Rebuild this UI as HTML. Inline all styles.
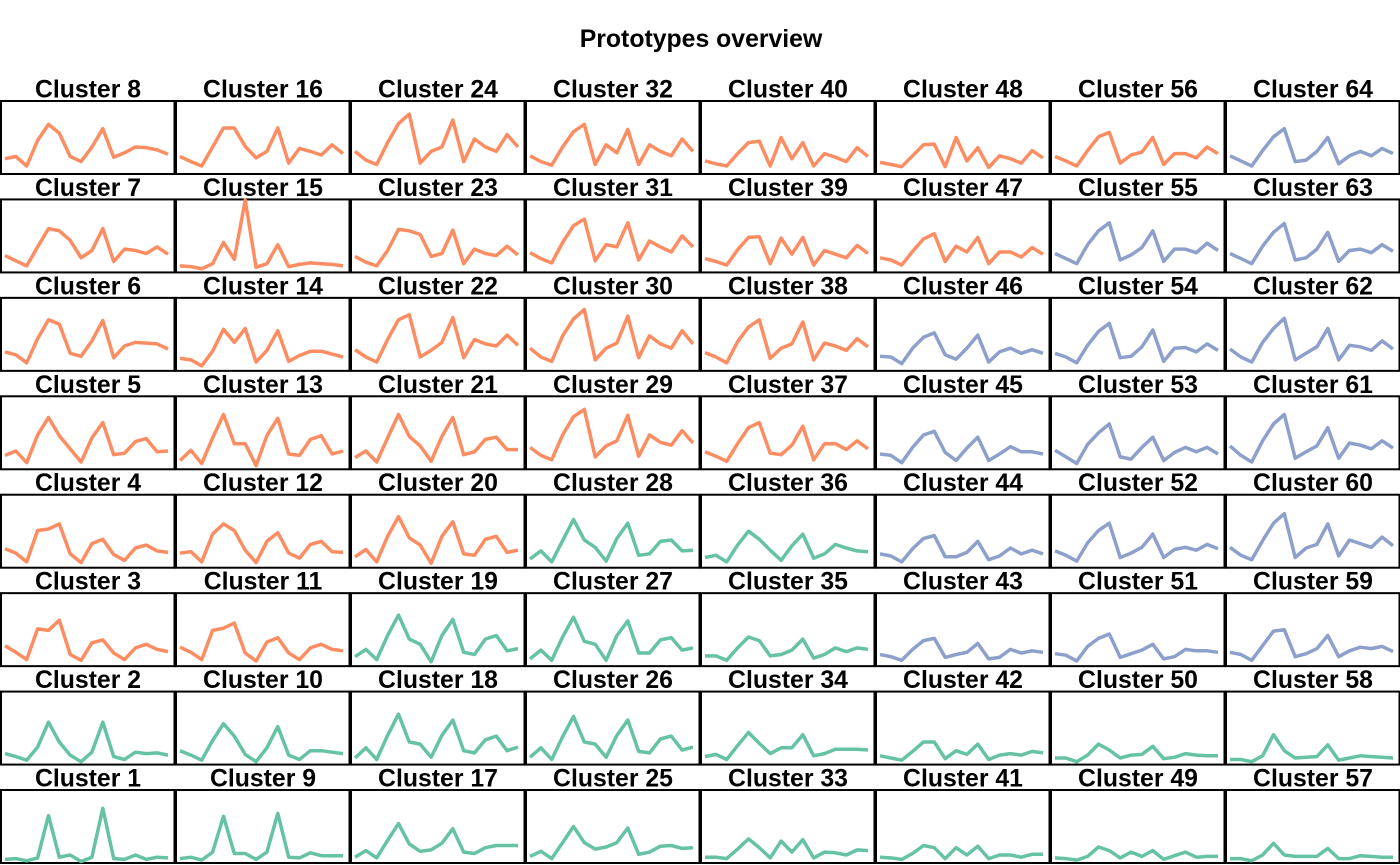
<!DOCTYPE html>
<html><head><meta charset="utf-8"><style>
html,body{margin:0;padding:0;background:#fff;}
svg{display:block;font-family:"Liberation Sans",Arial,sans-serif;}
</style></head><body>
<svg id="chart" width="1400" height="865" viewBox="0 0 1400 865" xmlns="http://www.w3.org/2000/svg">
<text x="701" y="47" text-anchor="middle" font-size="24.8" font-weight="bold">Prototypes overview</text>
</svg>
<script>
const c1=[.05,.06,.03,.07,.65,.08,.11,.02,.08,.75,.06,.05,.11,.05,.08,.07];
const c2=[.15,.11,.06,.24,.58,.31,.13,.04,.17,.58,.11,.07,.17,.15,.16,.13];
const c3=[.28,.19,.09,.51,.49,.63,.16,.08,.32,.36,.18,.09,.25,.30,.23,.20];
const c4=[.26,.20,.08,.51,.53,.60,.19,.07,.33,.39,.18,.10,.27,.31,.23,.21];
const c5=[.19,.25,.09,.47,.71,.46,.28,.10,.43,.64,.20,.22,.38,.42,.24,.25];
const c6=[.26,.22,.11,.44,.70,.64,.24,.20,.41,.69,.18,.34,.39,.38,.37,.30];
const c7=[.23,.16,.09,.35,.60,.57,.44,.20,.30,.60,.15,.32,.30,.26,.35,.25];
const c8=[.21,.24,.11,.46,.68,.56,.24,.17,.37,.62,.23,.29,.37,.36,.33,.27];
const c9=[.06,.08,.04,.15,.64,.13,.13,.05,.15,.68,.08,.07,.14,.10,.10,.10];
const c10=[.19,.13,.06,.33,.56,.39,.14,.04,.23,.52,.13,.07,.19,.19,.17,.15];
const c11=[.26,.19,.09,.49,.52,.59,.18,.07,.33,.39,.18,.09,.25,.30,.23,.21];
const c12=[.20,.22,.08,.46,.60,.51,.24,.07,.36,.48,.20,.13,.32,.36,.22,.21];
const c13=[.12,.26,.08,.43,.75,.35,.35,.05,.46,.70,.21,.19,.41,.46,.21,.25];
const c14=[.17,.15,.07,.27,.57,.39,.58,.12,.28,.55,.13,.21,.27,.27,.23,.19];
const c15=[.09,.08,.05,.12,.41,.18,.99,.07,.12,.38,.08,.11,.13,.12,.11,.09];
const c16=[.24,.17,.11,.37,.63,.63,.38,.22,.31,.63,.15,.35,.31,.26,.40,.28];
const c17=[.08,.17,.07,.31,.54,.26,.16,.18,.27,.47,.15,.13,.21,.24,.24,.24];
const c18=[.09,.23,.07,.40,.69,.31,.28,.10,.40,.61,.19,.16,.34,.39,.19,.24];
const c19=[.13,.23,.09,.42,.70,.37,.30,.06,.42,.64,.19,.16,.37,.42,.21,.24];
const c20=[.15,.25,.08,.43,.70,.41,.31,.06,.43,.63,.19,.17,.39,.43,.21,.24];
const c21=[.16,.25,.10,.43,.75,.45,.32,.11,.45,.71,.20,.24,.41,.44,.27,.27];
const c22=[.29,.19,.12,.43,.70,.77,.19,.28,.39,.73,.18,.43,.37,.34,.49,.35];
const c23=[.22,.14,.09,.30,.59,.57,.52,.22,.26,.58,.12,.32,.26,.23,.36,.24];
const c24=[.31,.19,.13,.43,.69,.82,.15,.31,.37,.74,.17,.48,.37,.31,.54,.37];
const c25=[.09,.16,.06,.28,.50,.28,.19,.22,.28,.48,.12,.15,.23,.24,.20,.21];
const c26=[.10,.23,.07,.38,.66,.31,.28,.10,.40,.61,.18,.16,.35,.39,.20,.24];
const c27=[.10,.22,.08,.40,.67,.34,.30,.08,.42,.62,.18,.18,.36,.39,.22,.25];
const c28=[.12,.23,.08,.37,.66,.38,.28,.09,.40,.61,.17,.19,.36,.38,.23,.24];
const c29=[.30,.19,.13,.47,.72,.82,.17,.32,.39,.74,.18,.47,.37,.33,.53,.36];
const c30=[.31,.19,.13,.48,.71,.84,.15,.31,.38,.75,.18,.48,.37,.31,.55,.37];
const c31=[.27,.19,.13,.41,.64,.73,.16,.38,.35,.68,.17,.43,.35,.28,.50,.35];
const c32=[.25,.17,.12,.37,.58,.68,.13,.40,.29,.61,.13,.40,.31,.25,.48,.31];
const c33=[.08,.08,.06,.19,.33,.21,.07,.30,.15,.32,.07,.15,.14,.11,.18,.17];
const c34=[.11,.14,.07,.26,.44,.29,.15,.23,.23,.41,.12,.15,.21,.21,.21,.20];
const c35=[.14,.14,.08,.25,.40,.35,.14,.16,.22,.37,.11,.16,.25,.20,.25,.23];
const c36=[.14,.17,.08,.31,.50,.39,.24,.10,.30,.46,.13,.19,.32,.27,.23,.22];
const c37=[.24,.18,.11,.35,.57,.64,.22,.20,.33,.59,.13,.35,.35,.27,.39,.28];
const c38=[.25,.19,.11,.40,.60,.70,.17,.31,.37,.67,.15,.38,.34,.28,.44,.33];
const c39=[.19,.15,.10,.31,.48,.49,.12,.47,.25,.48,.10,.30,.25,.20,.37,.26];
const c40=[.18,.14,.11,.28,.43,.45,.11,.50,.21,.43,.11,.28,.23,.17,.36,.24];
const c41=[.08,.07,.05,.13,.24,.21,.06,.21,.11,.23,.06,.11,.11,.08,.12,.12];
const c42=[.12,.09,.06,.18,.31,.31,.08,.19,.14,.28,.07,.13,.15,.13,.18,.16];
const c43=[.16,.13,.08,.23,.35,.38,.12,.16,.19,.31,.10,.12,.23,.18,.21,.19];
const c44=[.19,.16,.08,.26,.40,.44,.15,.15,.21,.36,.11,.16,.27,.19,.24,.19];
const c45=[.21,.19,.09,.30,.47,.52,.23,.12,.29,.44,.12,.21,.31,.24,.24,.21];
const c46=[.20,.19,.10,.31,.46,.52,.22,.16,.31,.49,.12,.26,.31,.24,.29,.24];
const c47=[.20,.17,.10,.29,.46,.53,.15,.36,.28,.48,.12,.28,.28,.21,.34,.25];
const c48=[.16,.13,.10,.25,.40,.41,.10,.50,.18,.36,.09,.25,.21,.15,.32,.22];
const c49=[.07,.06,.04,.09,.22,.17,.07,.15,.09,.17,.05,.10,.15,.08,.09,.09];
const c50=[.09,.09,.04,.13,.28,.20,.09,.13,.14,.25,.08,.10,.15,.13,.12,.12];
const c51=[.17,.15,.07,.27,.38,.44,.12,.17,.22,.30,.10,.13,.23,.21,.21,.19];
const c52=[.23,.17,.09,.34,.51,.61,.14,.20,.28,.46,.14,.25,.28,.24,.32,.26];
const c53=[.26,.17,.08,.34,.50,.62,.17,.14,.30,.44,.12,.23,.30,.24,.30,.21];
const c54=[.24,.19,.11,.35,.54,.65,.18,.20,.33,.56,.13,.31,.32,.26,.37,.28];
const c55=[.26,.19,.12,.38,.57,.68,.17,.24,.34,.57,.15,.32,.32,.27,.40,.30];
const c56=[.24,.18,.11,.32,.51,.57,.15,.26,.30,.50,.13,.28,.28,.22,.37,.28];
const c57=[.06,.06,.03,.11,.27,.11,.09,.09,.09,.20,.06,.06,.10,.09,.08,.08];
const c58=[.07,.07,.04,.12,.41,.19,.09,.10,.11,.27,.06,.09,.12,.11,.10,.09];
const c59=[.19,.16,.08,.28,.48,.50,.13,.17,.24,.42,.13,.21,.26,.24,.27,.20];
const c60=[.28,.17,.11,.37,.61,.74,.14,.27,.32,.60,.16,.38,.33,.28,.42,.30];
const c61=[.32,.19,.10,.39,.62,.75,.15,.24,.32,.57,.15,.36,.33,.28,.39,.29];
const c62=[.30,.19,.12,.39,.58,.72,.15,.24,.33,.58,.15,.35,.33,.28,.41,.30];
const c63=[.26,.19,.12,.36,.55,.67,.17,.20,.32,.55,.15,.30,.32,.27,.38,.29];
const c64=[.25,.18,.11,.32,.51,.62,.17,.19,.31,.50,.14,.25,.31,.25,.35,.28];
const clusterSeries=[c1,c2,c3,c4,c5,c6,c7,c8,c9,c10,c11,c12,c13,c14,c15,c16,c17,c18,c19,c20,c21,c22,c23,c24,c25,c26,c27,c28,c29,c30,c31,c32,c33,c34,c35,c36,c37,c38,c39,c40,c41,c42,c43,c44,c45,c46,c47,c48,c49,c50,c51,c52,c53,c54,c55,c56,c57,c58,c59,c60,c61,c62,c63,c64];
const orangeClusters=[3,4,5,6,7,8,11,12,13,14,15,16,20,21,22,23,24,29,30,31,32,37,38,39,40,47,48,56];
const blueClusters=[43,44,45,46,51,52,53,54,55,59,60,61,62,63,64];
const yMin=0, yMax=1;

const NS='http://www.w3.org/2000/svg';
const svg=document.getElementById('chart');
const colW=175, rowStep=98.43, boxTop0=101, boxH=73, xPad0=5, xPad1=168;
function colorOf(k){
  if(orangeClusters.indexOf(k)>=0) return '#fc8d62';
  if(blueClusters.indexOf(k)>=0) return '#8da0cb';
  return '#66c2a5';
}
for(let i=0;i<clusterSeries.length;i++){
  const k=i+1;
  const col=Math.floor(i/8), row=7-(i%8);
  const left=col*colW, top=boxTop0+row*rowStep;
  const g=document.createElementNS(NS,'g');
  
  
  const t=document.createElementNS(NS,'text');
  
  
  t.setAttribute('x',left+88);t.setAttribute('y',top-3.5);
  t.setAttribute('text-anchor','middle');t.setAttribute('font-size','24.8');t.setAttribute('font-weight','bold');
  t.textContent='Cluster '+k;
  g.appendChild(t);
  const r=document.createElementNS(NS,'rect');
  
  
  r.setAttribute('x',left+1);r.setAttribute('y',top);
  r.setAttribute('width',colW-1.5);r.setAttribute('height',boxH);
  r.setAttribute('fill','none');r.setAttribute('stroke','#000');r.setAttribute('stroke-width','2');
  g.appendChild(r);
  const vals=clusterSeries[i];
  const n=vals.length;
  const xs=j=>left+xPad0+(xPad1-xPad0)*j/(n-1);
  const ys=v=>top+boxH-(v-yMin)/(yMax-yMin)*boxH;
  const pts=vals.map((v,j)=>xs(j).toFixed(1)+','+ys(v).toFixed(1)).join(' ');
  const p=document.createElementNS(NS,'polyline');
  
  
  p.setAttribute('points',pts);
  p.setAttribute('fill','none');p.setAttribute('stroke',colorOf(k));
  p.setAttribute('stroke-width','3.5');p.setAttribute('stroke-linejoin','round');
  g.appendChild(p);
  svg.appendChild(g);
}
</script>
</body></html>
